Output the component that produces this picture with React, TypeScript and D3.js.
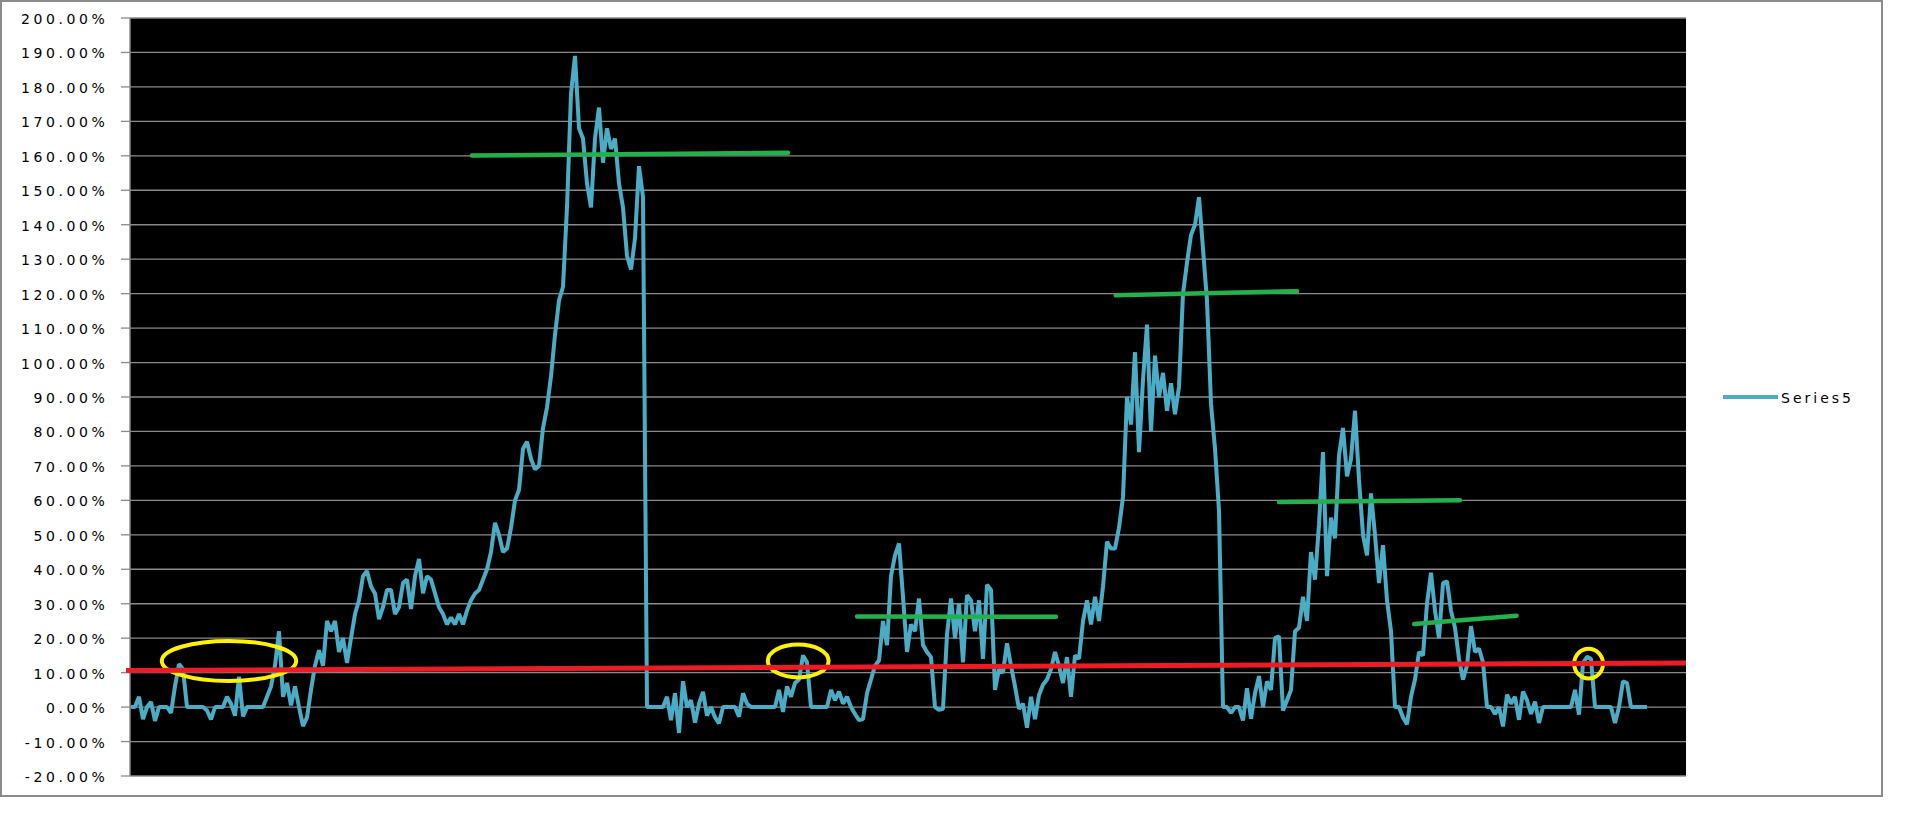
import React from "react";
import * as d3 from "d3";

// ---- data (percent values) ----
const seriesName = "Series5";
const series5: number[] = [
  // 0-64
  0, 0, 3, -3.5, 0, 1.5, -4, 0, 0, 0,
  -1.7, 6, 12.5, 11, 0, 0, 0, 0, 0, -1,
  -3.6, 0, 0, 0, 3, 1, -2.5, 8.8, -2.7, 0,
  0, 0, 0, 0, 3, 6, 12, 22, 3, 7,
  0.5, 6, 0, -5.5, -3, 5, 12, 16.5, 12, 25,
  22, 25, 16, 20, 12.8, 20, 27, 31, 38, 39.5,
  35, 33, 25.5, 29, 34,
  // 65-129
  34, 27, 29, 36, 37, 28.5, 38, 43, 33, 38,
  37, 33, 29, 27, 24, 26, 24, 27, 24, 28,
  31, 33, 34, 37, 40, 45, 53.5, 50, 45, 46,
  52, 60, 63, 75, 77, 72, 69, 70, 81, 87,
  96, 108, 118, 122, 145, 178, 189, 168, 165, 152,
  145, 165, 174, 158, 168, 162, 165, 152, 145, 131,
  127, 136, 157, 148, 0,
  // 130-187
  0, 0, 0, 0, 3, -3.8, 4, -7.5, 7.5, 0,
  2, -4.5, 1, 4.4, -2.5, 0, -3, -4.7, 0, 0,
  0, 0, -2.8, 4, 1, 0, 0, 0, 0, 0,
  0, 0, 5, -1.4, 6, 3, 7, 8, 15, 13,
  0, 0, 0, 0, 0, 5, 2, 4.5, 1, 3,
  0, -2, -3.8, -3.5, 4, 8, 12, 13.5,
  // 188-242
  25, 18, 38, 44, 47.5, 32, 16, 24, 22, 31.5,
  18, 16, 14.5, 0, -0.8, -0.5, 21, 31.5, 20, 30,
  13, 32.5, 31, 22, 31, 14, 35.5, 34, 5, 11,
  10, 18.5, 12, 6, -0.5, 1, -6, 3, -3.5, 3.5,
  6.5, 8, 11, 16, 12, 7, 14.5, 3, 15, 14,
  25, 31, 24, 32, 25,
  // 243-308
  35, 48, 46, 46, 52, 61, 90, 82, 103, 74,
  95, 111, 80, 102, 90, 97, 86, 94, 85, 93,
  120, 129, 137, 140, 148, 133, 118, 88, 75, 57,
  0, 0, -1.7, 0, 0, -3.9, 5.5, -3.4, 4, 9,
  0, 7.5, 5, 20, 20.5, -1, 2, 5, 22, 23,
  32, 25, 45, 37, 53, 74, 38, 55, 49, 73,
  81, 67, 72, 86, 66, 50,
  // 309-379
  44, 62, 50, 36, 47, 31, 22, 0, 0, -3,
  -5, 3, 8, 16, 15, 30, 39, 28, 20, 36,
  36.5, 28, 23, 14, 8, 12, 23.5, 16, 17, 13,
  0, 0, -2, 0, -5.6, 3.6, 1, 3, -3.7, 4.5,
  2, -2, 1.6, -4.6, 0, 0, 0, 0, 0, 0,
  0, 0, 5, -2.2, 12.8, 14.6, 14, 0, 0, 0,
  0, 0, -4.6, 0, 7.5, 7, 0, 0, 0, 0,
  0,
];

const yTicks: number[] = [200, 190, 180, 170, 160, 150, 140, 130, 120, 110, 100, 90, 80, 70, 60, 50, 40, 30, 20, 10, 0, -10, -20];

// annotation shapes, in (index, percent) units
const redLine = [
  { i: -1.25, v: 10.6 },
  { i: 388.75, v: 12.8 },
];
const greenLines = [
  { i0: 85.25, v0: 160.1, i1: 164.25, v1: 160.9 },
  { i0: 181.5, v0: 26.3, i1: 231.25, v1: 26.2 },
  { i0: 246.2, v0: 119.5, i1: 291.5, v1: 120.7 },
  { i0: 287, v0: 59.5, i1: 332.25, v1: 60.0 },
  { i0: 320.8, v0: 24.1, i1: 346.4, v1: 26.5 },
];
const yellowEllipses = [
  { i: 24.5, v: 13.4, ri: 16.8, rv: 5.8 },
  { i: 166.8, v: 13.4, ri: 7.6, rv: 4.8 },
  { i: 364.4, v: 12.6, ri: 3.6, rv: 4.3 },
];

const W = 1907;
const H = 831;
const plot = { left: 130, right: 1686, top: 18, bottom: 776 };

export default function App() {
  const N = series5.length;
  const x = d3.scaleLinear().domain([0, N - 1]).range([131, 1647]);
  const y = d3.scaleLinear().domain([-20, 200]).range([plot.bottom, plot.top]);
  const line = d3
    .line<number>()
    .x((_, i) => x(i))
    .y((d) => y(d));
  const pxPerIdx = x(1) - x(0);
  const pxPerPct = y(0) - y(1);
  const font = "'DejaVu Sans', Verdana, sans-serif";
  const grid = "#8a8a8a";

  return (
    <svg
      width={W}
      height={H}
      style={{ position: "absolute", left: 0, top: 0, display: "block", background: "#fff" }}
    >
      <rect x={1} y={1} width={1881} height={795} fill="#fff" stroke="#8c8c8c" strokeWidth={2} />
      <rect
        x={plot.left}
        y={plot.top}
        width={plot.right - plot.left}
        height={plot.bottom - plot.top}
        fill="#000"
      />
      {yTicks.map((t) => (
        <g key={t}>
          <line x1={plot.left} x2={plot.right} y1={y(t)} y2={y(t)} stroke={grid} strokeWidth={1.3} />
          <line x1={121} x2={plot.left} y1={y(t)} y2={y(t)} stroke={grid} strokeWidth={1.3} />
          <text
            x={108.5}
            y={y(t) + 6}
            textAnchor="end"
            fontFamily={font}
            fontSize={14}
            letterSpacing={3.6}
            fill="#000"
          >
            {t.toFixed(2) + "%"}
          </text>
        </g>
      ))}
      <line x1={plot.left} x2={plot.left} y1={plot.top} y2={plot.bottom} stroke={grid} strokeWidth={1.5} />

      <path
        d={line(series5) || ""}
        fill="none"
        stroke="#4BACC6"
        strokeWidth={4}
        strokeLinejoin="bevel"
      />

      {yellowEllipses.map((e, k) => (
        <ellipse
          key={k}
          cx={x(e.i)}
          cy={y(e.v)}
          rx={e.ri * pxPerIdx}
          ry={e.rv * pxPerPct}
          fill="none"
          stroke="#FFF200"
          strokeWidth={4}
        />
      ))}

      <line
        x1={x(redLine[0].i)}
        y1={y(redLine[0].v)}
        x2={x(redLine[1].i)}
        y2={y(redLine[1].v)}
        stroke="#ED1C24"
        strokeWidth={5}
      />

      {greenLines.map((g, k) => (
        <line
          key={k}
          x1={x(g.i0)}
          y1={y(g.v0)}
          x2={x(g.i1)}
          y2={y(g.v1)}
          stroke="#22B14C"
          strokeWidth={4.5}
          strokeLinecap="round"
        />
      ))}

      <line x1={1723} x2={1778} y1={397} y2={397} stroke="#4BACC6" strokeWidth={4} />
      <text x={1781} y={403} fontFamily={font} fontSize={14} letterSpacing={3} fill="#000">
        {seriesName}
      </text>
    </svg>
  );
}
